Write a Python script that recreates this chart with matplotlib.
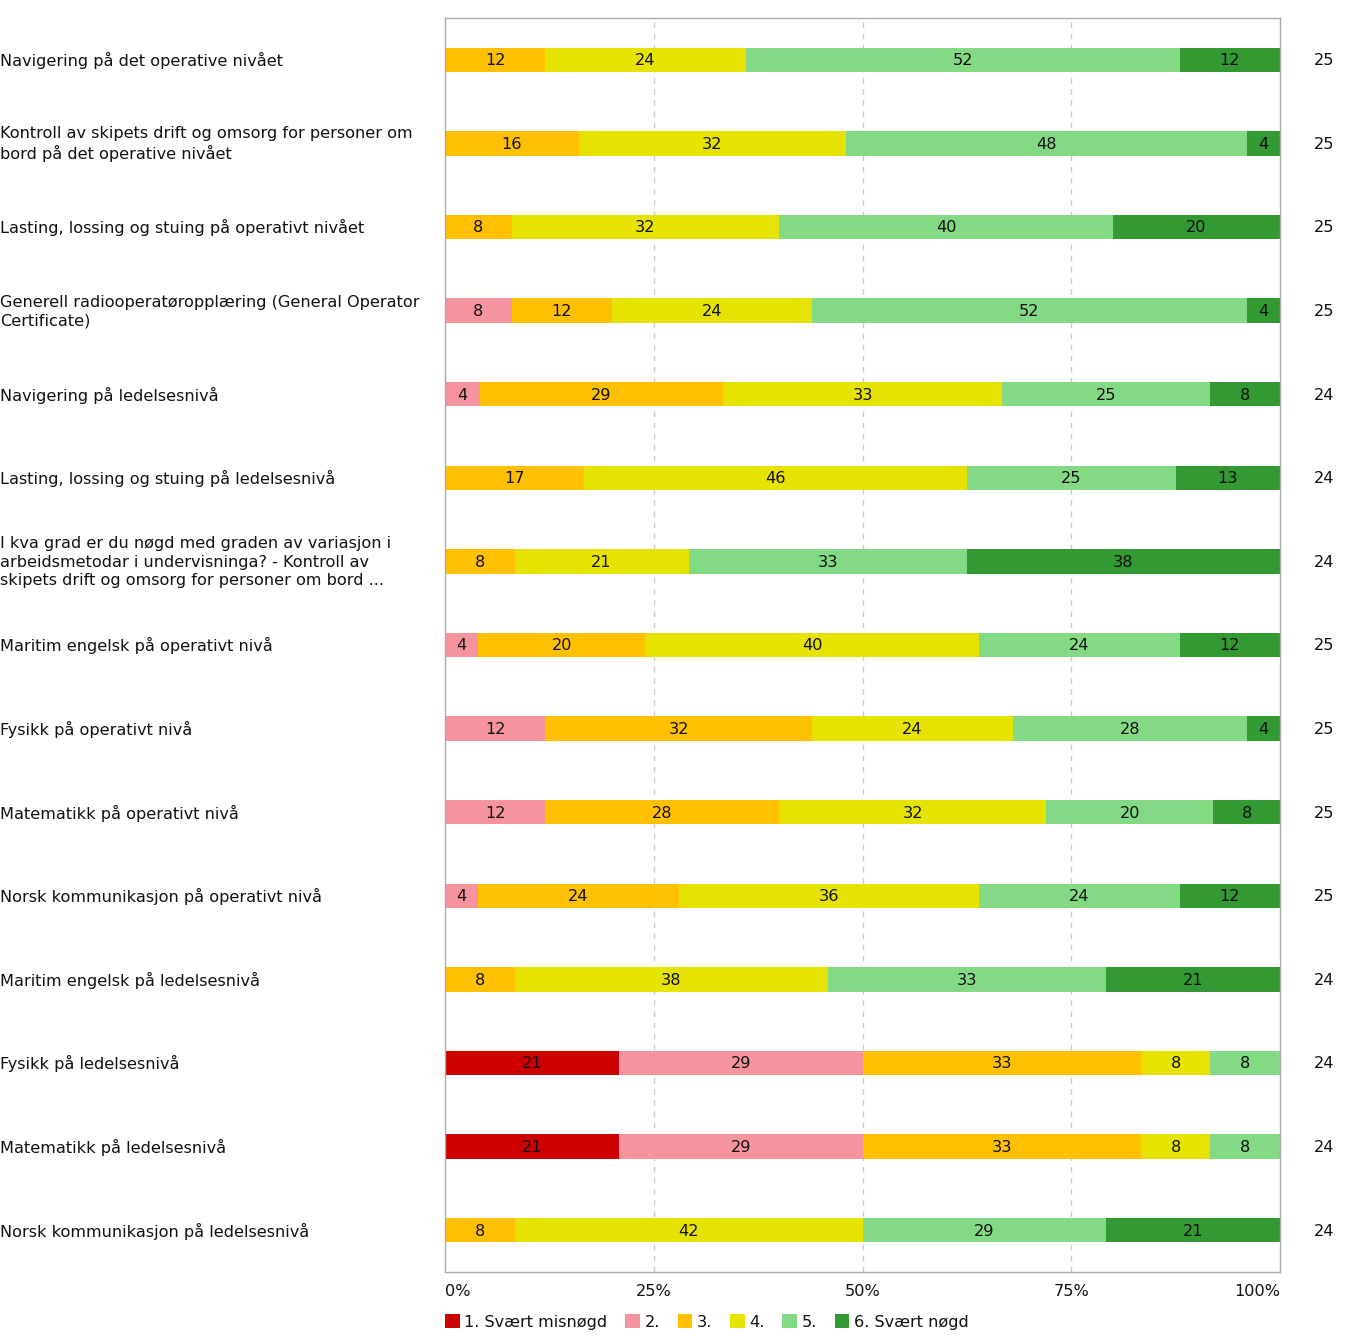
import matplotlib
matplotlib.use("Agg")
import matplotlib.pyplot as plt
from matplotlib.patches import Patch
from matplotlib.transforms import blended_transform_factory
import math

categories = ["1. Svært misnøgd", "2.", "3.", "4.", "5.", "6. Svært nøgd"]
colors = ["#CC0000", "#F5949F", "#FFC000", "#E6E300", "#84D984", "#339933"]

questions = [
    "Navigering på det operative nivået",
    "Kontroll av skipets drift og omsorg for personer om\nbord på det operative nivået",
    "Lasting, lossing og stuing på operativt nivået",
    "Generell radiooperatøropplæring (General Operator\nCertificate)",
    "Navigering på ledelsesnivå",
    "Lasting, lossing og stuing på ledelsesnivå",
    "I kva grad er du nøgd med graden av variasjon i\narbeidsmetodar i undervisninga? - Kontroll av\nskipets drift og omsorg for personer om bord ...",
    "Maritim engelsk på operativt nivå",
    "Fysikk på operativt nivå",
    "Matematikk på operativt nivå",
    "Norsk kommunikasjon på operativt nivå",
    "Maritim engelsk på ledelsesnivå",
    "Fysikk på ledelsesnivå",
    "Matematikk på ledelsesnivå",
    "Norsk kommunikasjon på ledelsesnivå",
]

# response counts per category (1..6) for each question
counts = [
    [0, 0, 3, 6, 13, 3],
    [0, 0, 4, 8, 12, 1],
    [0, 0, 2, 8, 10, 5],
    [0, 2, 3, 6, 13, 1],
    [0, 1, 7, 8, 6, 2],
    [0, 0, 4, 11, 6, 3],
    [0, 0, 2, 5, 8, 9],
    [0, 1, 5, 10, 6, 3],
    [0, 3, 8, 6, 7, 1],
    [0, 3, 7, 8, 5, 2],
    [0, 1, 6, 9, 6, 3],
    [0, 0, 2, 9, 8, 5],
    [5, 7, 8, 2, 2, 0],
    [5, 7, 8, 2, 2, 0],
    [0, 0, 2, 10, 7, 5],
]

xticks = [0, 25, 50, 75, 100]
xticklabels = ["0%", "25%", "50%", "75%", "100%"]

W, H = 1347, 1337
fig = plt.figure(figsize=(W / 100, H / 100), dpi=100)
plt.rcParams['font.family'] = ['DejaVu Sans']
FS = 11.6

ax_l, ax_r, ax_t, ax_b = 445, 1280, 18, 1272
ax = fig.add_axes([ax_l / W, 1 - ax_b / H, (ax_r - ax_l) / W, (ax_b - ax_t) / H])

ax.set_xlim(0, 100)
ax.set_ylim(len(questions) - 0.5, -0.5)
for x in xticks[1:-1]:
    ax.axvline(x, color="#cccccc", lw=1, ls=(0, (4, 4)), zorder=0)

bar_h = 0.29
for i, row in enumerate(counts):
    n = sum(row)
    left = 0.0
    for j, c in enumerate(row):
        if c == 0:
            continue
        w = c / n * 100
        ax.barh(i, w, left=left, height=bar_h, color=colors[j], edgecolor="none", zorder=2)
        lbl = int(math.floor(w + 0.5))
        ax.text(left + w / 2, i + 0.01, str(lbl), ha="center", va="center", fontsize=FS, color="#111111", zorder=3)
        left += w
    ax.text(1.053, i + 0.01, str(n), transform=blended_transform_factory(ax.transAxes, ax.transData),
            ha="center", va="center", fontsize=FS, color="#111111")

trans = blended_transform_factory(fig.transFigure, ax.transData)
for i, q in enumerate(questions):
    ax.text(0.0, i + 0.01, q, transform=trans, ha="left", va="center", fontsize=FS,
            color="#111111", linespacing=1.3)

ax.set_yticks([])
ax.set_xticks([])
for s in ax.spines.values():
    s.set_color("#aaaaaa")
    s.set_linewidth(1)

tick_trans = blended_transform_factory(ax.transData, fig.transFigure)
for x, l in zip(xticks, xticklabels):
    ha = "left" if x == 0 else ("right" if x == 100 else "center")
    ax.text(x, 1 - 1292 / H, l, transform=tick_trans, ha=ha, va="center", fontsize=FS, color="#111111")

handles = [Patch(facecolor=c, edgecolor="none") for c in colors]
leg = fig.legend(handles, categories, loc="center left", bbox_to_anchor=(445 / W, 1 - 1322 / H),
                 ncol=6, frameon=False, fontsize=FS, handlelength=0.9, handleheight=0.9,
                 handletextpad=0.3, columnspacing=1.1, borderaxespad=0, borderpad=0)
for t in leg.get_texts():
    t.set_color("#111111")

fig.savefig("out.png", dpi=100)
